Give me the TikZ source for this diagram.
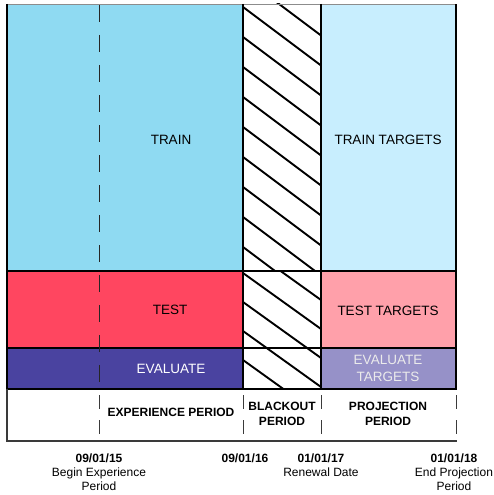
\documentclass[tikz,border=0pt]{standalone}
\usepackage{fontspec}
\setmainfont{Liberation Sans}
\definecolor{trainblue}{HTML}{8FDAF2}
\definecolor{trainpale}{HTML}{C8EEFE}
\definecolor{testred}{HTML}{FF4660}
\definecolor{testpink}{HTML}{FFA0AA}
\definecolor{evalblue}{HTML}{4A43A0}
\definecolor{evallilac}{HTML}{9691C8}
\definecolor{edgegray}{HTML}{3A3A3A}
\tikzset{
  block/.style={
    draw = black,
    line width = 1.6pt
  },
  hatchline/.style={
    line width = 1.9pt
  },
  marker/.style={
    draw = black!85,
    line width = 0.9pt,
    dash pattern = on 17pt off 13pt
  },
  periodtick/.style={
    draw = edgegray,
    line width = 1pt,
    dash pattern = on 14pt off 11pt
  },
}
\tikzset{
  celltext/.style={
    font = \fontsize{13.5}{16.5}\selectfont,
    align = center,
    inner sep = 0pt
  },
  periodtext/.style={
    font = \bfseries\fontsize{12}{15}\selectfont,
    align = center,
    inner sep = 0pt
  },
  datetext/.style={
    font = \fontsize{12}{14}\selectfont,
    align = center,
    inner sep = 0pt
  }
}

\begin{document}
\begin{tikzpicture}[x=1pt,y=-1pt]
        \useasboundingbox (0,0) rectangle (494,495);
        \def\ColA{7}
        \def\ColB{99}
        \def\ColC{243}
        \def\ColD{321}
        \def\ColE{456}
        \def\RowA{4}
        \def\RowB{271}
        \def\RowC{348}
        \def\RowD{389}
        \def\RowE{441}

        % coloured blocks
        \fill[trainblue] (\ColA,\RowA) rectangle (\ColC,\RowB);
        \fill[testred] (\ColA,\RowB) rectangle (\ColC,\RowC);
        \fill[evalblue] (\ColA,\RowC) rectangle (\ColC,\RowD);
        \fill[trainpale] (\ColD,\RowA) rectangle (\ColE,\RowB);
        \fill[testpink] (\ColD,\RowB) rectangle (\ColE,\RowC);
        \fill[evallilac] (\ColD,\RowC) rectangle (\ColE,\RowD);

        % blackout hatching
        \begin{scope}
          \clip (\ColC,\RowA) rectangle (\ColD,\RowB);
          \foreach \y in {-23,7,...,277}
            \draw[hatchline] (\ColC,\y) --++ (78,58.5);
        \end{scope}
        \begin{scope}
          \clip (\ColC,\RowB) rectangle (\ColD,\RowD);
          \foreach \y in {244,273,...,389}
            \draw[hatchline] (\ColC,\y) --++ (78,56);
        \end{scope}

        % grid
        \draw[black!45, line width=0.8pt] (\ColA,\RowA) -- (\ColE,\RowA);
        \draw[block] (\ColA,\RowA) -- (\ColA,\RowD) -- (\ColE,\RowD) -- (\ColE,\RowA);
        \draw[block] (\ColA,\RowB) -- (\ColE,\RowB);
        \draw[block] (\ColA,\RowC) -- (\ColE,\RowC);
        \draw[block] (\ColC,\RowA) -- (\ColC,\RowD);
        \draw[block] (\ColD,\RowA) -- (\ColD,\RowD);
        \draw[marker] (\ColB,5) -- (\ColB,\RowD);

        % period row
        \draw[edgegray, line width=1.2pt] (\ColA,\RowD) -- (\ColA,\RowE) -- (457,\RowE);
        \foreach \x in {\ColB,\ColC,\ColD,\ColE}
          \draw[periodtick] (\x,395) -- (\x,436);

        \node[celltext] (train) at (171,140) {TRAIN};
        \node[celltext] (traintargets) at (388,140) {TRAIN TARGETS};
        \node[celltext] (test) at (170,310) {TEST};
        \node[celltext] (testtargets) at (388,311) {TEST TARGETS};
        \node[celltext, text=white] (evaluate) at (171,369) {EVALUATE};
        \node[celltext, text=white!92!black] (evaltargets) at (388,368.5) {EVALUATE\\TARGETS};

        \node[periodtext] (experience) at (171,412) {EXPERIENCE PERIOD};
        \node[periodtext] (blackout) at (282,413.5) {BLACKOUT\\PERIOD};
        \node[periodtext] (projection) at (388,413.5) {PROJECTION\\PERIOD};

        \node[datetext] (beginexp) at (99,472) {\textbf{09/01/15}\\Begin Experience\\Period};
        \node[datetext] (blackstart) at (245,458) {\textbf{09/01/16}};
        \node[datetext] (renewal) at (321,465) {\textbf{01/01/17}\\Renewal Date};
        \node[datetext] (endproj) at (454,472) {\textbf{01/01/18}\\End Projection\\Period};
\end{tikzpicture}
\end{document}
